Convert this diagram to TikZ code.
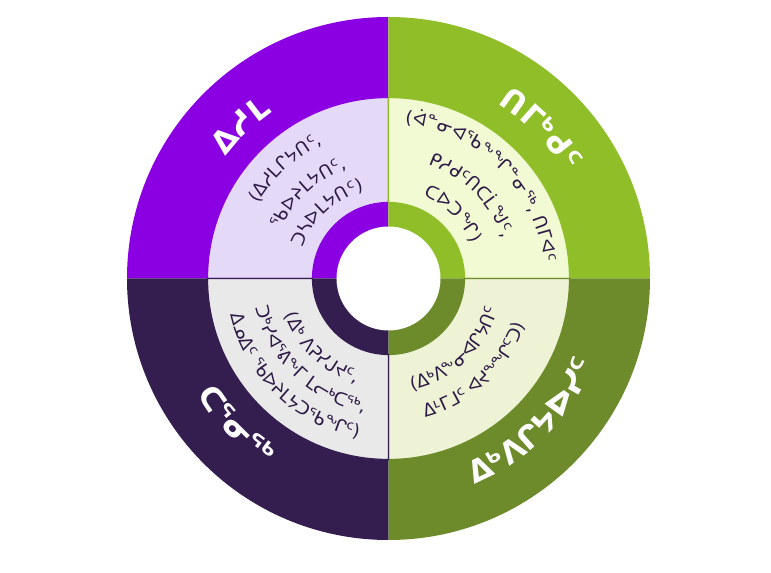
\documentclass[tikz,border=0pt]{standalone}
\usepackage{fontspec}
\newfontfamily\syl{DejaVu Sans}
\usetikzlibrary{decorations.text}

\definecolor{isumadark}{RGB}{138,0,226}
\definecolor{isumalight}{RGB}{229,217,248}
\definecolor{timidark}{RGB}{143,190,40}
\definecolor{timilight}{RGB}{241,250,210}
\definecolor{ikpidark}{RGB}{109,139,43}
\definecolor{ikpilight}{RGB}{237,243,212}
\definecolor{tarniqdark}{RGB}{52,29,79}
\definecolor{tarniqlight}{RGB}{233,233,233}
\definecolor{textdark}{RGB}{46,26,71}

\begin{document}
\begin{tikzpicture}[
  x=0.75pt, y=0.75pt,
  outerlabel/.style={
    decorate,
    decoration={text along path, text align=center, text color=white,
      text={|\syl\bfseries\fontsize{23}{27}\selectfont|#1}}
  },
  innerlabel/.style={
    decorate,
    decoration={text along path, text align=center, text color=textdark,
      text={|\syl\fontsize{13.5}{16}\selectfont|#1}}
  }
]
\useasboundingbox (-388.5,-294.5) rectangle (382.5,278.5);

% Quadrants: outer band, light band, inner ring
\foreach \a/\dark/\light in {90/isumadark/isumalight, 0/timidark/timilight,
    -90/ikpidark/ikpilight, 180/tarniqdark/tarniqlight}{
  \fill[\dark] (0,0) -- (\a:261.5) arc[start angle=\a, delta angle=90, radius=261.5] -- cycle;
  \filldraw[fill=\light, draw=\dark, line width=0.9pt]
    (\a:76) -- (\a:181) arc[start angle=\a, delta angle=90, radius=181]
    -- ({\a+90}:76) arc[start angle={\a+90}, delta angle=-90, radius=76] -- cycle;
}
\fill[white] (0,0) circle[radius=52];

% Outer labels
\path[outerlabel={ᐃᓱᒪ}] (204:203) arc[start angle=204, end angle=64, radius=203];
\path[outerlabel={ᑎᒥᒃᑯᑦ}] (114.5:206) arc[start angle=114.5, end angle=-25.5, radius=206];
\path[outerlabel={ᐃᒃᐱᒋᔭᐅᓯᑦ}] (-115:223) arc[start angle=-115, end angle=25, radius=223];
\path[outerlabel={ᑕᕐᓂᖅ}] (-206:224) arc[start angle=-206, end angle=-66, radius=224];

% Top left
\path[innerlabel={(ᐃᓱᒪᒋᔭᑎᑦ,}] (203:150) arc[start angle=203, end angle=63, radius=150];
\path[innerlabel={ᖃᐅᔨᒪᔭᑎᑦ,}] (203:118) arc[start angle=203, end angle=63, radius=118];
\path[innerlabel={ᑐᓴᐅᒪᔭᑎᑦ)}] (203:91) arc[start angle=203, end angle=63, radius=91];

% Top right
\path[innerlabel={(ᐋᓐᓂᐊᖃᖕᖏᓐᓂᖅ, ᑎᒥᐊᑦ}] (115:156) arc[start angle=115, end angle=-25, radius=156];
\path[innerlabel={ᑭᓱᑯᑦᑎᑕᒫᖑᑦ,}] (115:121) arc[start angle=115, end angle=-25, radius=121];
\path[innerlabel={ᑕᐅᑐᖏ)}] (115:90) arc[start angle=115, end angle=-25, radius=90];

% Bottom left
\path[innerlabel={(ᐃᒃ ᐱᕈᓯᒍᔪᑦ,}] (-204:110) arc[start angle=-204, end angle=-64, radius=110];
\path[innerlabel={ᑐᒃᓯᐊᕐᕕᖕᒥ ᒪᓕᒃᑕᖅ,}] (-204:136) arc[start angle=-204, end angle=-64, radius=136];
\path[innerlabel={ᐃᓄᐃᑦ ᖃᐅᔨᒪᔭᑐᖃᖏᑦ)}] (-204:162) arc[start angle=-204, end angle=-64, radius=162];

% Bottom right
\path[innerlabel={(ᐃᒃᐱᖕᓂᐊᒋᔭᑎᑦ}] (-117:114) arc[start angle=-117, end angle=23, radius=114];
\path[innerlabel={ᐃᒻᒥᒧᑦ ᐊᔪᖕᖏᑦᑐ)}] (-117:144) arc[start angle=-117, end angle=23, radius=144];

\end{tikzpicture}
\end{document}
